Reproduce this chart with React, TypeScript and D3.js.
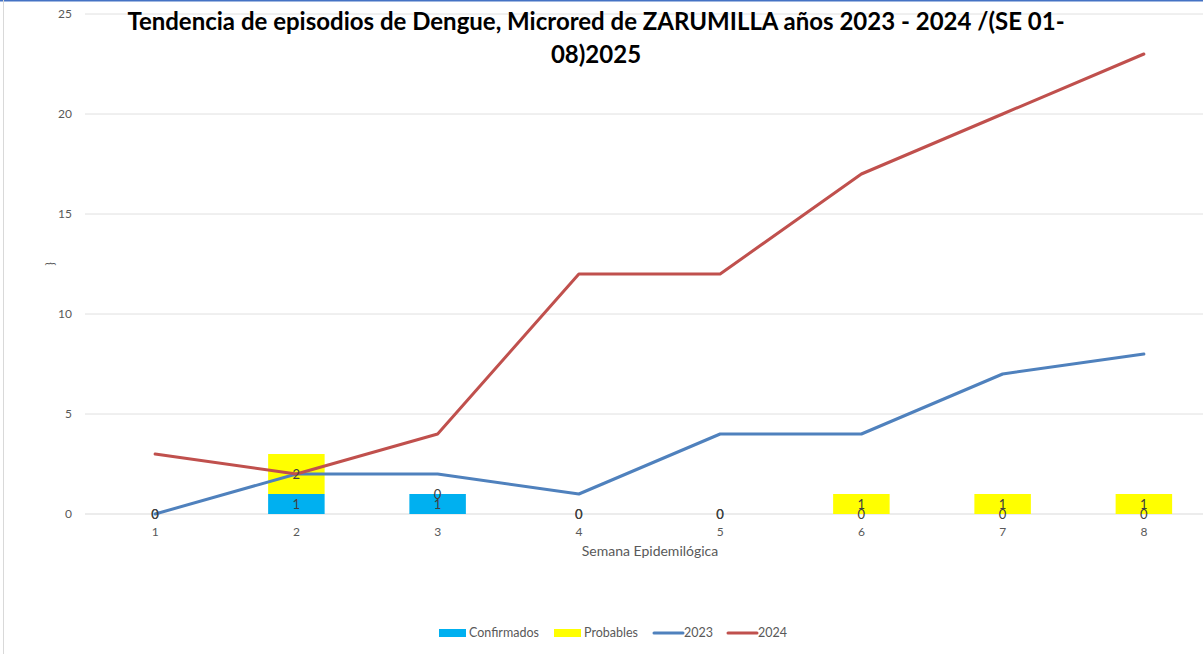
import React from "react";
import * as d3 from "d3";

const weeks = ["1", "2", "3", "4", "5", "6", "7", "8"];
const confirmados = [0, 1, 1, 0, 0, 0, 0, 0];
const probables = [0, 2, 0, 0, 0, 1, 1, 1];
const serie2023 = [0, 2, 2, 1, 4, 4, 7, 8];
const serie2024 = [3, 2, 4, 12, 12, 17, 20, 23];
const yTicks = [0, 5, 10, 15, 20, 25];

const W = 1203;
const H = 654;
const FONT = "Lato, 'Open Sans', 'Noto Sans', sans-serif";

export default function App() {
  const x = d3.scaleBand().domain(weeks).range([84.5, 1214.5]).paddingInner(0.6).paddingOuter(0.3);
  const xc = (w: string) => (x(w) as number) + x.bandwidth() / 2;
  const y = d3.scaleLinear().domain([0, 25]).range([514, 14]);
  const barW = 56.5;
  const line = d3.line<number>().x((_, i) => xc(weeks[i])).y((d) => y(d));

  return (
    <svg width={W} height={H} style={{ position: "absolute", left: 0, top: 0, display: "block" }} fontFamily={FONT}>
      <rect x={0} y={0} width={W} height={H} fill="#fff" />
      <line x1={0} x2={W} y1={0.5} y2={0.5} stroke="#4472c4" strokeWidth={2} />
      <line x1={3.5} x2={3.5} y1={0} y2={H} stroke="#d9d9d9" strokeWidth={1} />
      {yTicks.map((t) => (
        <g key={t}>
          <line x1={85} x2={W} y1={y(t)} y2={y(t)} stroke={t === 0 ? "#d9d9d9" : "#e0e0e0"} strokeWidth={1} />
          <text x={72} y={y(t)} dy="0.35em" textAnchor="end" fontSize={12} fill="#595959">{t}</text>
        </g>
      ))}
      {weeks.map((w, i) => {
        const cx = xc(w);
        return (
          <g key={w}>
            {confirmados[i] > 0 && (
              <rect x={cx - barW / 2} y={y(confirmados[i])} width={barW} height={y(0) - y(confirmados[i])} fill="#00b0f0" />
            )}
            {probables[i] > 0 && (
              <rect x={cx - barW / 2} y={y(confirmados[i] + probables[i])} width={barW} height={y(confirmados[i]) - y(confirmados[i] + probables[i])} fill="#ffff00" />
            )}
          </g>
        );
      })}
      <path d={line(serie2023) || ""} fill="none" stroke="#4f81bd" strokeWidth={3} strokeLinejoin="round" strokeLinecap="round" />
      <path d={line(serie2024) || ""} fill="none" stroke="#c0504d" strokeWidth={3} strokeLinejoin="round" strokeLinecap="round" />
      {weeks.map((w, i) => {
        const cx = xc(w);
        const cMid = (y(0) + y(confirmados[i])) / 2;
        const pMid = (y(confirmados[i]) + y(confirmados[i] + probables[i])) / 2;
        return (
          <g key={"l" + w} fontSize={13} fill="#404040" textAnchor="middle">
            <text x={cx} y={cMid} dy="0.35em">{confirmados[i]}</text>
            <text x={cx} y={pMid} dy="0.35em">{probables[i]}</text>
          </g>
        );
      })}
      {weeks.map((w) => (
        <text key={"t" + w} x={xc(w)} y={532} dy="0.35em" textAnchor="middle" fontSize={12} fill="#595959">{w}</text>
      ))}
      <text x={650} y={551} dy="0.35em" textAnchor="middle" fontSize={14} fill="#595959">Semana Epidemilógica</text>
      <text transform={`translate(50,264) rotate(-90)`} textAnchor="middle" dy="0.35em" fontSize={12} fill="#595959">{"}"}</text>
      <text x={596} y={30} textAnchor="middle" fontSize={24} fontWeight="bold" fill="#000">
        Tendencia de episodios de Dengue, Microred de ZARUMILLA años 2023 - 2024 /(SE 01-
      </text>
      <text x={596} y={63} textAnchor="middle" fontSize={24} fontWeight="bold" fill="#000">08)2025</text>
      <g fontSize={12.5} fill="#595959">
        <rect x={439} y={629} width={27} height={8} fill="#00b0f0" />
        <text x={469} y={633} dy="0.35em">Confirmados</text>
        <rect x={554} y={629} width={27} height={8} fill="#ffff00" />
        <text x={584} y={633} dy="0.35em">Probables</text>
        <line x1={654} x2={683} y1={633} y2={633} stroke="#4f81bd" strokeWidth={3} strokeLinecap="round" />
        <text x={684} y={633} dy="0.35em">2023</text>
        <line x1={728} x2={757} y1={633} y2={633} stroke="#c0504d" strokeWidth={3} strokeLinecap="round" />
        <text x={758} y={633} dy="0.35em">2024</text>
      </g>
    </svg>
  );
}
